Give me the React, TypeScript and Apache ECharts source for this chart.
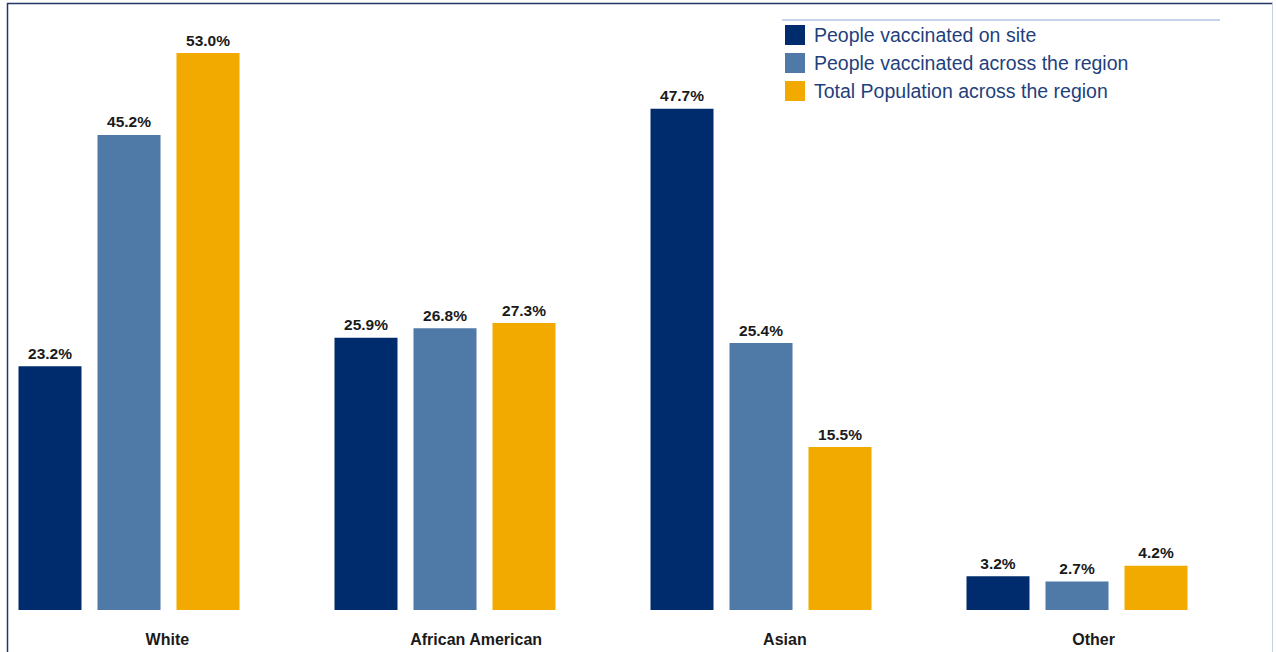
import React, { useEffect, useRef } from "react";
import * as echarts from "echarts";

const categories = ["White", "African American", "Asian", "Other"];
const seriesNames = [
  "People vaccinated on site",
  "People vaccinated across the region",
  "Total Population across the region",
];
const onSite = [23.2, 25.9, 47.7, 3.2];
const acrossRegion = [45.2, 26.8, 25.4, 2.7];
const totalPopulation = [53.0, 27.3, 15.5, 4.2];
const colors = ["#002c6e", "#4f79a7", "#f2aa00"];

// the chart canvas is shifted left by OFF px so the first category can start off-page
const OFF = 29;

export default function App() {
  const ref = useRef<HTMLDivElement>(null);
  useEffect(() => {
    const chart = echarts.init(ref.current!, null, { renderer: "svg" });
    const label = {
      show: true,
      position: "top",
      distance: 5,
      fontFamily: "Liberation Sans, Arial, sans-serif",
      fontWeight: "bold",
      fontSize: 15.5,
      color: "#1a1a1a",
      formatter: (p: any) => Number(p.value).toFixed(1) + "%",
    };
    const data = [onSite, acrossRegion, totalPopulation];
    chart.setOption({
      animation: false,
      backgroundColor: "#ffffff",
      grid: [
        { left: 0, right: 41, top: 53, bottom: 42, containLabel: false },
        { left: 42, right: 28, top: 53, bottom: 42, containLabel: false },
      ],
      legend: {
        orient: "vertical",
        left: 785 + OFF,
        top: 25,
        padding: 0,
        itemWidth: 20,
        itemHeight: 20,
        itemGap: 8,
        icon: "rect",
        data: seriesNames,
        textStyle: {
          fontFamily: "Liberation Sans, Arial, sans-serif",
          fontSize: 19.5,
          color: "#1f3f7d",
          padding: [0, 0, 0, 4],
        },
      },
      xAxis: [
        {
          type: "category",
          gridIndex: 0,
          data: categories,
          axisLine: { show: false },
          axisTick: { show: false },
          axisLabel: { show: false },
        },
        {
          type: "category",
          gridIndex: 1,
          data: categories,
          axisLine: { show: false },
          axisTick: { show: false },
          axisLabel: {
            margin: 21,
            fontFamily: "Liberation Sans, Arial, sans-serif",
            fontWeight: "bold",
            fontSize: 16,
            color: "#1a1a1a",
          },
        },
      ],
      yAxis: [
        { type: "value", gridIndex: 0, min: 0, max: 53, show: false, splitLine: { show: false } },
        { type: "value", gridIndex: 1, min: 0, max: 53, show: false, splitLine: { show: false } },
      ],
      series: seriesNames.map((name, i) => ({
        name,
        type: "bar",
        xAxisIndex: 0,
        yAxisIndex: 0,
        data: data[i],
        barWidth: 63,
        barGap: "25.4%",
        barCategoryGap: "30%",
        itemStyle: { color: colors[i] },
        label,
      })),
      graphic: [
        {
          type: "line",
          shape: { x1: 782 + OFF, y1: 20, x2: 1220 + OFF, y2: 20 },
          style: { stroke: "#8ea8d2", lineWidth: 1 },
        },
        {
          type: "line",
          shape: { x1: 7 + OFF, y1: 3.5, x2: 1273 + OFF, y2: 3.5 },
          style: { stroke: "#1f3a68", lineWidth: 1.5 },
        },
        {
          type: "line",
          shape: { x1: 7.5 + OFF, y1: 3, x2: 7.5 + OFF, y2: 652 },
          style: { stroke: "#1f3a68", lineWidth: 1.5 },
        },
        {
          type: "line",
          shape: { x1: 1272.5 + OFF, y1: 3, x2: 1272.5 + OFF, y2: 652 },
          style: { stroke: "#c8d0dc", lineWidth: 1 },
        },
      ],
    });
    return () => chart.dispose();
  }, []);
  return (
    <div style={{ position: "absolute", left: 0, top: 0, width: 1276, height: 652, overflow: "hidden", background: "#ffffff" }}>
      <div
        ref={ref}
        style={{ position: "absolute", left: -OFF, top: 0, width: 1276 + OFF, height: 652 }}
      />
    </div>
  );
}
